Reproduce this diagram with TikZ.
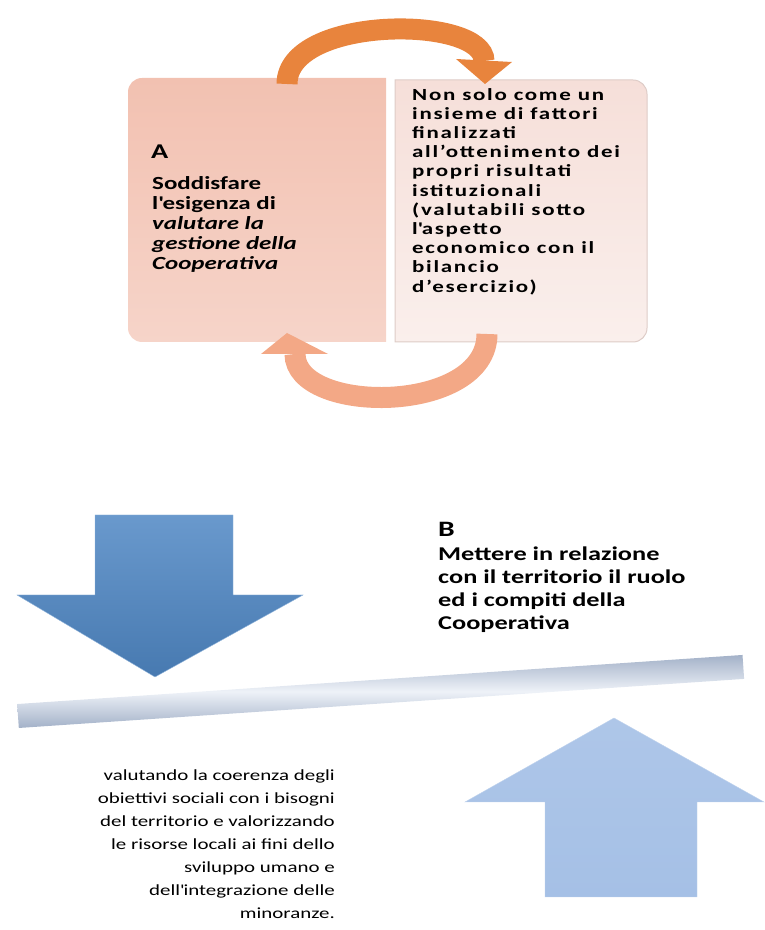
\documentclass[tikz,border=0pt]{standalone}
\usepackage{fontspec}
\setmainfont[FakeStretch=1.35]{Carlito}
\newfontfamily\spacedfont[FakeStretch=1.35,LetterSpace=10]{Carlito}
\definecolor{pinkA}{HTML}{F2C1B1}
\definecolor{pinkB}{HTML}{F6D4C9}
\definecolor{roseA}{HTML}{F6DFD9}
\definecolor{roseB}{HTML}{FAEFEC}
\definecolor{orangeTop}{HTML}{E8843D}
\definecolor{salmon}{HTML}{F3A886}
\definecolor{steel}{HTML}{4F87C4}
\definecolor{skyblue}{HTML}{A5C0E6}
\definecolor{barA}{HTML}{A3B1C8}
\definecolor{barB}{HTML}{EEF2F8}
\begin{document}
\begin{tikzpicture}[x=1pt,y=1pt,
    boxtext/.style={inner sep=0pt,anchor=north west,align=left},
    band/.style={line width=21pt},
  ]
  \useasboundingbox (0,0) rectangle (765,930);
  \shade[top color=pinkA,bottom color=pinkB] (386,852) [rounded corners=14pt] -- (128,852) -- (128,588) [sharp corners] -- (386,588) -- cycle;
  \shade[top color=roseA,bottom color=roseB,draw=roseA!80!gray,line width=1pt] (395,850) [rounded corners=14pt] -- (647,850) -- (647,588) [sharp corners] -- (395,588) -- cycle;
  \draw[band,orangeTop] (287,846) .. controls (287,915) and (484,915) .. (484,869);
  \fill[orangeTop] (456,871) -- (512,868) -- (485,846) -- cycle;
  \draw[band,salmon] (487,596) .. controls (487,515) and (295,515) .. (295,576);
  \fill[salmon] (261,576) -- (328,576) -- (287,597) -- cycle;
  \node (labA) [boxtext,anchor=west,font=\bfseries\fontsize{21}{21}\selectfont] at (151,778) {A};
  \node (txtA) [boxtext,font=\bfseries\fontsize{18.5}{20}\selectfont] at (152,754) {Soddisfare\\l\textquotesingle esigenza di\\\textit{valutare la}\\\textit{gestione della}\\\textit{Cooperativa}};
  \node (txtR) [boxtext,font=\spacedfont\bfseries\fontsize{17}{19.2}\selectfont] at (412,842) {Non solo come un\\insieme di fattori\\finalizzati\\all’ottenimento dei\\propri risultati\\istituzionali\\(valutabili sotto\\l\textquotesingle aspetto\\economico con il\\bilancio\\d’esercizio)};
  \shade[top color=steel!85!white,bottom color=steel!90!black,draw=steel!60!white] (95,415) -- (233,415) -- (233,335) -- (303,335) -- (155,253) -- (17,335) -- (95,335) -- cycle;
  \begin{scope}[shift={(18,214)},rotate=3.87]
    \shade[top color=barA,bottom color=barA,middle color=barB] (0,-12) rectangle (727,12);
  \end{scope}
  \shade[top color=skyblue!90!white,bottom color=skyblue,draw=skyblue!70!white] (545,33) -- (545,128) -- (465,128) -- (614,212) -- (764,128) -- (697,128) -- (697,33) -- cycle;
  \node (labB) [boxtext,anchor=west,font=\bfseries\fontsize{22}{22}\selectfont] at (438,401) {B};
  \node (txtB) [boxtext,font=\bfseries\fontsize{19.5}{23}\selectfont] at (438,383) {Mettere in relazione\\con il territorio il ruolo\\ed i compiti della\\Cooperativa};
  \node (txtC) [boxtext,anchor=north east,align=right,font=\fontsize{15.5}{23}\selectfont] at (335,160) {valutando la coerenza degli\\obiettivi sociali con i bisogni\\del territorio e valorizzando\\le risorse locali ai fini dello\\sviluppo umano e\\dell\textquotesingle integrazione delle\\minoranze.};
\end{tikzpicture}
\end{document}
